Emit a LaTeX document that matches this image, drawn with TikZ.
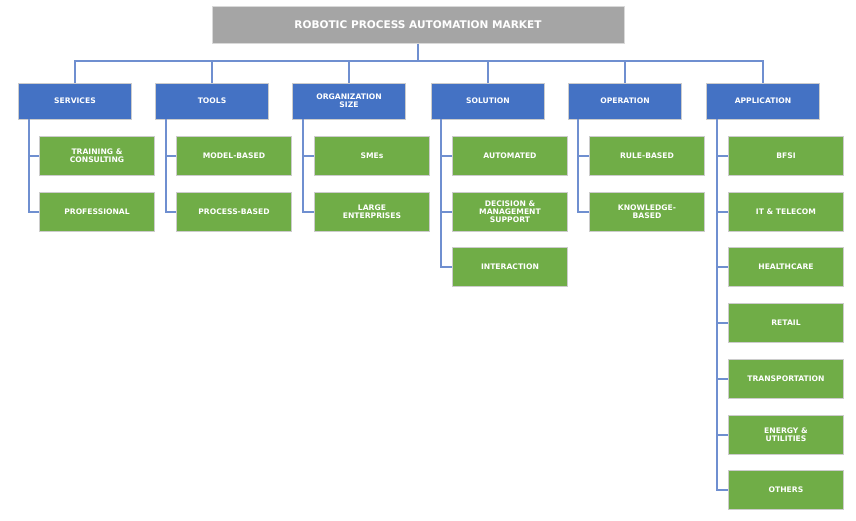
\documentclass[tikz,border=0pt]{standalone}
\usepackage{fontspec}
\setmainfont{DejaVu Sans}
\definecolor{catblue}{HTML}{4472C4}
\definecolor{leafgreen}{HTML}{70AD47}
\definecolor{titlegray}{HTML}{A5A5A5}
\definecolor{linkblue}{HTML}{6F8FD0}
\tikzset{
title/.style={rectangle, minimum width=12.36cm, minimum height=1.11cm, fill=titlegray, draw=white!85!black, text=white, font=\fontsize{9}{10}\selectfont\bfseries},
cat/.style={rectangle, minimum width=3.39cm, minimum height=1.08cm, text centered, align=center, fill=catblue, draw=white!80!black, text=white, font=\fontsize{6.5}{7}\selectfont\bfseries},
leaf/.style={rectangle, minimum width=3.45cm, minimum height=1.17cm, text centered, align=center, fill=leafgreen, draw=white!80!black, text=white, font=\fontsize{6.5}{7}\selectfont\bfseries},
link/.style={linkblue, line width=0.9pt}}

\begin{document}
\begin{tikzpicture}[x=0.03cm, y=-0.03cm]
\useasboundingbox (0,0) rectangle (856,520);
\node (market) [title] at (418,25) {ROBOTIC PROCESS AUTOMATION MARKET};
\coordinate (bus) at (418,61);

% categories
\node (services) [cat] at (75,101) {SERVICES};
\node (tools) [cat] at (212,101) {TOOLS};
\node (orgsize) [cat] at (349,101) {ORGANIZATION\\SIZE};
\node (solution) [cat] at (488,101) {SOLUTION};
\node (operation) [cat] at (625,101) {OPERATION};
\node (application) [cat] at (763,101) {APPLICATION};

\draw [link] (market) -- (bus);
\foreach \c in {services,tools,orgsize,solution,operation,application}
  \draw [link] (bus) -| (\c);

% leaves
\node (training) [leaf] at (97,156) {TRAINING \&\\CONSULTING};
\node (professional) [leaf] at (97,212) {PROFESSIONAL};
\node (model) [leaf] at (234,156) {MODEL-BASED};
\node (process) [leaf] at (234,212) {PROCESS-BASED};
\node (smes) [leaf] at (372,156) {SMEs};
\node (large) [leaf] at (372,212) {LARGE\\ENTERPRISES};
\node (automated) [leaf] at (510,156) {AUTOMATED};
\node (decision) [leaf] at (510,212) {DECISION \&\\MANAGEMENT\\SUPPORT};
\node (interaction) [leaf] at (510,267) {INTERACTION};
\node (rule) [leaf] at (647,156) {RULE-BASED};
\node (knowledge) [leaf] at (647,212) {KNOWLEDGE-\\BASED};
\node (bfsi) [leaf] at (786,156) {BFSI};
\node (telecom) [leaf] at (786,212) {IT \& TELECOM};
\node (healthcare) [leaf] at (786,267) {HEALTHCARE};
\node (retail) [leaf] at (786,323) {RETAIL};
\node (transport) [leaf] at (786,379) {TRANSPORTATION};
\node (energy) [leaf] at (786,435) {ENERGY \&\\UTILITIES};
\node (others) [leaf] at (786,490) {OTHERS};

\foreach \c/\x/\l in {services/29/{training,professional}, tools/166/{model,process},
  orgsize/303/{smes,large}, solution/441/{automated,decision,interaction},
  operation/578/{rule,knowledge},
  application/717/{bfsi,telecom,healthcare,retail,transport,energy,others}}
  \foreach \k in \l
    \draw [link] (\c.south -| \x,0) |- (\k.west);
\end{tikzpicture}
\end{document}
